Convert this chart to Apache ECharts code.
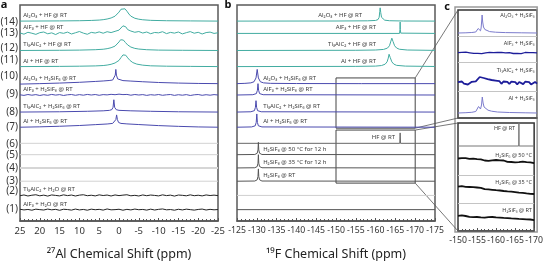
<!DOCTYPE html>
<html><head><meta charset="utf-8">
<script src="https://cdn.jsdelivr.net/npm/echarts/dist/echarts.min.js"></script>
<style>html,body{margin:0;padding:0;background:#fff}#chart{width:546px;height:266px}</style>
</head><body><div id="chart"></div>
<script>
// ---------------- DATA ----------------
const rowNumbers = ['(1)','(2)','(3)','(4)','(5)','(6)','(7)','(8)','(9)','(10)','(11)','(12)','(13)','(14)'];
const xRangeA = [-25, 25];
const xRangeB = [-175, -125];
const xRangeC = [-170, -150];
const tickStep = 5;

// panel a: 27Al spectra [ppm, intensity]
const aAl2O3_HF = [[25,0],[15,0.2],[10,0.4],[7,0.7],[5,1.1],[4,1.5],[3,2.2],[2,3.3],[1,5.2],[0.5,7],[0,9.5],[-0.5,12.5],[-1,14],[-1.5,13],[-2,10.5],[-2.5,7.5],[-3,5.2],[-4,3],[-5,2],[-6,1.4],[-8,0.8],[-12,0.4],[-18,0.2],[-25,0]];
const aAlF3_HF = [[25,0.5],[24.5,-0.4],[24,-0.8],[23.5,0.6],[23,1.2],[22.5,-0.3],[22,0.2],[21.5,1.0],[21,-1],[20.5,0.2],[20,0.8],[19.5,-0.2],[19,1.5],[18.5,0.5],[18,-0.4],[17.5,1.2],[17,0.6],[16.5,-0.2],[16,-1.2],[15.5,0.3],[15,0.9],[14.5,-0.5],[14,0.1],[13.5,0.8],[13,1.4],[12.5,0.2],[12,-0.6],[11.5,1.1],[11,0.7],[10.5,-0.2],[10,2.0],[9.5,0.9],[9,0.3],[8.5,1.2],[8,-0.9],[7.5,0.4],[7,1.1],[6.5,-0.3],[6,0.4],[5.5,1.3],[5,1.6],[4.5,0.3],[4,0.2],[3.5,1.4],[3,1.8],[2.5,0.6],[2,0.9],[1.5,2.0],[1,2.2],[0.5,2.6],[0,3.5],[-0.5,5],[-1,8],[-1.3,10],[-1.7,7],[-2.2,4],[-2.6,3.2],[-3,2.5],[-3.5,1.4],[-4,1.2],[-4.5,2.4],[-5,2.0],[-5.5,0.8],[-6,0.4],[-6.5,1.6],[-7,1.5],[-7.5,0.2],[-8,-0.3],[-8.5,0.9],[-9,1.0],[-9.5,-0.2],[-10,0.6],[-10.5,1.3],[-11,1.8],[-11.5,0.4],[-12,-0.2],[-12.5,0.7],[-13,1.1],[-13.5,-0.4],[-14,0.3],[-14.5,1.2],[-15,1.5],[-15.5,0.1],[-16,-0.5],[-16.5,0.6],[-17,0.8],[-17.5,1.6],[-18,1.9],[-18.5,0.5],[-19,0.2],[-19.5,1.4],[-20,1.2],[-20.5,0.0],[-21,-0.6],[-21.5,0.5],[-22,0.9],[-22.5,-0.2],[-23,1.4],[-23.5,0.6],[-24,0.0],[-24.5,1.1],[-25,0.7]];
const aTi3AlC2_HF = [[25,0],[15,0.2],[10,0.4],[6,0.8],[4,1.3],[3,1.9],[2,2.9],[1,4.6],[0.5,6.5],[0,9],[-0.4,11.3],[-0.7,12],[-1.1,11],[-1.6,8.5],[-2.2,5.8],[-3,3.6],[-4,2.2],[-5,1.5],[-7,0.8],[-10,0.4],[-16,0.2],[-25,0]];
const aAl_HF = [[25,0],[15,0.2],[10,0.4],[6,0.7],[4,1.1],[3,1.6],[2,2.4],[1,3.8],[0,6.5],[-0.5,9.5],[-1,12.3],[-1.3,13],[-1.7,12],[-2.2,9.2],[-2.8,6.4],[-3.5,4.2],[-4.5,2.6],[-6,1.5],[-8,0.8],[-12,0.4],[-18,0.2],[-25,0]];
const aAl2O3_H2SiF6 = [[25,-0.5],[20,0],[15,0.6],[10,1.4],[6,2.3],[4,2.8],[2.5,3.3],[1.6,3.8],[1.2,5],[0.95,9],[0.8,15],[0.65,9],[0.35,5],[0,3.8],[-1,3.2],[-3,2.7],[-6,2],[-10,1.2],[-15,0.6],[-20,0.2],[-25,0]];
const aAlF3_H2SiF6 = {x0:25, dx:-1, y:[0.2,-0.4,0.5,-0.2,0.4,-0.5,0.3,-0.3,0.6,-0.1,0.4,-0.5,0.2,0.5,-0.3,0.4,-0.2,0.6,0.0,0.5,-0.3,0.4,0.1,0.7,0.3,0.9,0.4,0.6,-0.2,0.5,0.0,0.4,-0.4,0.3,-0.1,0.5,-0.3,0.2,0.5,-0.4,0.3,-0.2,0.4,-0.5,0.2,0.5,-0.3,0.3,-0.2,0.4,0.0]};
const aTi3AlC2_H2SiF6 = [[25,0],[15,0.3],[8,0.8],[4,1.3],[2.4,1.8],[1.8,2.6],[1.5,5],[1.3,13],[1.1,5],[0.7,2.5],[0,1.8],[-3,1.3],[-8,0.8],[-15,0.3],[-25,0]];
const aAl_H2SiF6 = [[25,0],[20,0.4],[15,1.0],[10,1.8],[6,2.7],[3,3.4],[1.6,4],[1.1,5.2],[0.8,8],[0.6,13],[0.4,8],[0.1,5],[-0.5,4],[-2,3.5],[-5,2.8],[-10,1.7],[-15,0.9],[-20,0.3],[-25,0]];
const aBlank = [[25,0],[-25,0]];
const aTi3AlC2_H2O = {x0:25, dx:-1, y:[-0.3,0.5,-0.6,0.2,0.7,-0.4,0.3,-0.7,0.5,0.0,-0.5,0.6,-0.2,0.4,-0.6,0.3,0.7,-0.3,0.2,-0.5,0.6,-0.1,0.4,-0.6,0.5,-0.2,0.3,0.7,-0.4,0.1,-0.6,0.5,-0.3,0.4,0.0,-0.5,0.6,-0.2,0.3,-0.7,0.4,0.1,-0.4,0.6,-0.3,0.2,-0.5,0.5,-0.1,0.3,-0.2]};
const aAlF3_H2O = {x0:25, dx:-1, y:[0.4,-0.3,0.2,-0.6,0.5,0.0,-0.4,0.6,-0.2,0.3,-0.7,0.4,0.1,-0.5,0.6,-0.3,0.2,-0.6,0.5,-0.1,0.3,-0.5,0.7,-0.2,0.0,0.4,-0.6,0.3,-0.3,0.6,-0.1,0.2,-0.5,0.5,-0.4,0.3,0.7,-0.2,0.1,-0.6,0.4,-0.3,0.5,0.0,-0.5,0.2,0.6,-0.4,0.3,-0.2,0.1]};

// panel b: 19F spectra [ppm, intensity]
const bAl2O3_HF = [[-125,0],[-150,0.1],[-158,0.3],[-160,0.7],[-160.6,1.6],[-160.9,4],[-161.05,10],[-161.15,14],[-161.3,9],[-161.5,4],[-161.8,2],[-162.3,1],[-163.5,0.4],[-167,0.1],[-175,0]];
const bAlF3_HF = [[-125,0],[-166.05,0],[-166.15,4],[-166.2,12],[-166.25,4],[-166.35,0.3],[-175,0]];
const bTi3AlC2_HF = [[-125,0],[-155,0.2],[-160,0.5],[-162,1.1],[-163,2.5],[-163.5,5],[-163.8,9],[-164.1,13],[-164.4,9.5],[-164.8,5],[-165.3,2.6],[-166,1.3],[-168,0.5],[-175,0.1]];
const bAl_HF = [[-125,0],[-155,0.2],[-160,0.5],[-161.5,1.1],[-162.4,2.5],[-162.9,5],[-163.2,9],[-163.4,13],[-163.7,9.5],[-164.1,5],[-164.6,2.6],[-165.3,1.3],[-167.5,0.5],[-175,0.1]];
const bAl2O3_H2SiF6 = [[-125,0],[-127,0.3],[-128.5,0.8],[-129.3,2],[-129.8,6],[-130.1,15],[-130.4,6],[-130.9,2],[-131.7,0.8],[-133.5,0.3],[-140,0.1],[-155.8,0],[-156.1,0.8],[-156.4,0],[-175,0]];
const bAlF3_H2SiF6 = [[-125,0],[-129,0.3],[-129.9,1.5],[-130.15,5],[-130.3,12],[-130.45,5],[-130.7,1.5],[-131.6,0.3],[-175,0]];
const bTi3AlC2_H2SiF6 = [[-125,0],[-128.5,0.3],[-129.4,1.5],[-129.65,5],[-129.8,12],[-129.95,5],[-130.2,1.5],[-131.1,0.3],[-175,0]];
const bAl_H2SiF6 = [[-125,0],[-128.7,0.3],[-129.6,1.5],[-129.85,5],[-130.0,14],[-130.15,5],[-130.4,1.5],[-131.3,0.3],[-175,0]];
const bHF = [[-125,0],[-166.1,0],[-166.2,11],[-166.3,0],[-175,0]];
const bH2SiF6_50C = [[-125,0],[-129.5,0.2],[-130.1,1.5],[-130.3,5],[-130.4,13],[-130.5,5],[-130.7,1.5],[-131.3,0.2],[-175,0]];
const bH2SiF6_35C = [[-125,0],[-129.5,0.2],[-130.1,1.5],[-130.3,5],[-130.4,14],[-130.5,5],[-130.7,1.5],[-131.3,0.2],[-175,0]];
const bH2SiF6_RT = [[-125,0],[-129.5,0.2],[-130.1,1.5],[-130.3,5],[-130.4,13],[-130.5,5],[-130.7,1.5],[-131.3,0.2],[-175,0]];
const bBlank = [[-125,0],[-175,0]];

// panel c: 19F zoom (-150 to -170 ppm)
const cAl2O3_H2SiF6 = [[-150,0],[-152,0.2],[-153.5,0.5],[-154.5,1],[-154.9,2.5],[-155.1,4.5],[-155.3,6.5],[-155.5,4],[-155.7,2.2],[-155.85,5],[-156.0,12],[-156.1,18],[-156.25,11],[-156.45,6],[-156.8,3.5],[-157.3,2.2],[-158,1.4],[-159.5,0.8],[-162,0.4],[-166,0.2],[-170,0]];
const cAlF3_H2SiF6 = {x0:-150, dx:-0.5, y:[0.3,-0.5,0.6,-0.2,0.8,-0.6,0.2,0.5,-0.4,0.7,-0.3,0.4,-0.7,0.5,0.1,-0.5,0.6,-0.2,0.3,-0.6,0.5,-0.1,0.7,-0.4,0.2,-0.6,0.4,0.0,-0.5,0.6,-0.3,0.3,-0.7,0.2,0.5,-0.4,0.3,-0.6,0.4,-0.2,0.1]};
const cTi3AlC2_H2SiF6 = {x0:-150, dx:-0.5, y:[0.8,-1.2,1.5,-0.6,1.0,-1.5,0.4,1.2,-0.8,1.6,3.5,6.0,4.2,5.0,3.0,3.8,2.0,3.0,1.2,2.4,0.6,1.8,-0.8,1.5,0.2,1.2,-1.0,1.4,-0.4,0.9,-1.3,1.0,0.2,-1.1,1.3,-0.6,0.8,-1.4,0.5,1.1,-0.7]};
const cAl_H2SiF6 = [[-150,0],[-152,0.3],[-153.5,0.7],[-154.5,1.5],[-154.9,3.5],[-155.2,6.5],[-155.45,5],[-155.7,4],[-155.95,8],[-156.15,16],[-156.35,10],[-156.6,6],[-157,4],[-157.6,2.8],[-158.5,1.8],[-160,1],[-163,0.5],[-167,0.2],[-170,0]];
const cHF = [[-150,0],[-165.95,0],[-166,30],[-166.05,0],[-170,0]];
const cH2SiF6_50C = {x0:-150, dx:-0.5, y:[4.5,3.2,4.8,3.6,4.9,3.0,4.2,3.8,4.4,2.9,3.9,2.6,3.7,3.1,2.5,3.6,2.2,3.3,2.7,1.9,3.0,2.1,2.6,1.4,2.5,1.7,1.1,2.3,1.0,1.9,0.6,1.5,0.9,0.3,1.4,0.2,0.8,-0.3,0.7,0.1,-0.2]};
const cH2SiF6_35C = {x0:-150, dx:-0.5, y:[7.4,6.3,7.8,6.5,7.2,5.9,7.0,6.1,6.8,5.6,6.5,5.2,6.2,5.5,4.8,5.9,4.6,5.3,4.2,5.0,3.8,4.6,3.5,4.2,3.0,3.9,2.6,3.4,2.3,3.0,1.9,2.7,1.4,2.2,1.1,1.8,0.6,1.3,0.2,0.9,0.0]};
const cH2SiF6_RT = {x0:-150, dx:-0.5, y:[4.2,3.4,4.6,3.3,4.0,3.6,3.1,4.1,2.9,3.7,3.0,3.5,2.6,3.3,2.4,3.0,2.8,2.2,3.0,2.0,2.6,1.7,2.4,1.5,2.1,1.2,1.9,1.0,1.6,0.8,1.4,0.6,1.1,0.3,0.9,0.2,0.7,-0.2,0.5,0.1,-0.1]};

// ---------------- LAYOUT / STYLE ----------------
const TEAL = '#42aca1', BLUE = '#4a4aae', LBLUE = '#7b7bcc', DBLUE = '#1d1d9a';
const FONT = 'Noto Sans';
// vertical offset (axis units) of each stacked row, index = row number
const rowBase = [0, 12, 27, 42, 56, 70, 82, 99, 115, 133, 145, 163, 180, 198, 211];
const rowNumDy = [0, 1, 5, 0, 0, 0, -1, 0, 0, 1, 8, 7, 2, 0, -1];

function toPairs(d) { return Array.isArray(d) ? d : d.y.map((v, i) => [d.x0 + i * d.dx, v]); }

const aSpec = [
  {row:14, d:aAl2O3_HF, c:TEAL, t:'Al₂O₃ + HF @ RT'},
  {row:13, d:aAlF3_HF, c:TEAL, t:'AlF₃ + HF @ RT'},
  {row:12, d:aTi3AlC2_HF, c:TEAL, t:'Ti₃AlC₂ + HF @ RT'},
  {row:11, d:aAl_HF, c:TEAL, t:'Al + HF @ RT'},
  {row:10, d:aAl2O3_H2SiF6, c:BLUE, t:'Al₂O₃ + H₂SiF₆ @ RT'},
  {row:9, d:aAlF3_H2SiF6, c:BLUE, t:'AlF₃ + H₂SiF₆ @ RT'},
  {row:8, d:aTi3AlC2_H2SiF6, c:BLUE, t:'Ti₃AlC₂ + H₂SiF₆ @ RT'},
  {row:7, d:aAl_H2SiF6, c:BLUE, t:'Al + H₂SiF₆ @ RT'},
  {row:6, d:aBlank, c:'#d2d2d2'},
  {row:5, d:aBlank, c:'#d2d2d2'},
  {row:4, d:aBlank, c:'#d6d6d6', w:2},
  {row:3, d:aBlank, c:'#d2d2d2'},
  {row:2, d:aTi3AlC2_H2O, c:'#222', t:'Ti₃AlC₂ + H₂O @ RT'},
  {row:1, d:aAlF3_H2O, c:'#222', t:'AlF₃ + H₂O @ RT'}
];
const bSpec = [
  {row:14, d:bAl2O3_HF, c:TEAL, t:'Al₂O₃ + HF @ RT', lx:-156.6, al:'right'},
  {row:13, d:bAlF3_HF, c:TEAL, t:'AlF₃ + HF @ RT', lx:-160.1, al:'right'},
  {row:12, d:bTi3AlC2_HF, c:TEAL, t:'Ti₃AlC₂ + HF @ RT', lx:-160.1, al:'right'},
  {row:11, d:bAl_HF, c:TEAL, t:'Al + HF @ RT', lx:-160.1, al:'right'},
  {row:10, d:bAl2O3_H2SiF6, c:BLUE, t:'Al₂O₃ + H₂SiF₆ @ RT', lx:-131.6, al:'left'},
  {row:9, d:bAlF3_H2SiF6, c:BLUE, t:'AlF₃ + H₂SiF₆ @ RT', lx:-131.6, al:'left'},
  {row:8, d:bTi3AlC2_H2SiF6, c:BLUE, t:'Ti₃AlC₂ + H₂SiF₆ @ RT', lx:-131.6, al:'left'},
  {row:7, d:bAl_H2SiF6, c:BLUE, t:'Al + H₂SiF₆ @ RT', lx:-131.6, al:'left'},
  {row:6, d:bHF, c:'#666', t:'HF @ RT', lx:-164.9, al:'right'},
  {row:5, d:bH2SiF6_50C, c:'#555', t:'H₂SiF₆ @ 50 °C for 12 h', lx:-131.6, al:'left'},
  {row:4, d:bH2SiF6_35C, c:'#555', t:'H₂SiF₆ @ 35 °C for 12 h', lx:-131.6, al:'left'},
  {row:3, d:bH2SiF6_RT, c:'#555', t:'H₂SiF₆ @ RT', lx:-131.6, al:'left'},
  {row:2, d:bBlank, c:'#cfcfcf'},
  {row:1, d:bBlank, c:'#555'}
];
// panel c (two boxes): base and label height in box units
const cSpec = [
  {g:2, base:85, ly:103, d:cAl2O3_H2SiF6, c:LBLUE, w:1, t:'Al₂O₃ + H₂SiF₆'},
  {g:2, base:65, ly:75, d:cAlF3_H2SiF6, c:DBLUE, w:1.3, t:'AlF₃ + H₂SiF₆'},
  {g:2, base:35, ly:48, d:cTi3AlC2_H2SiF6, c:DBLUE, w:1.8, t:'Ti₃AlC₂ + H₂SiF₆'},
  {g:2, base:5, ly:20, d:cAl_H2SiF6, c:LBLUE, w:1, t:'Al + H₂SiF₆'},
  {g:3, base:85, ly:103, d:cHF, c:'#777', w:1, t:'HF @ RT', lx:-165.0},
  {g:3, base:68, ly:76, d:cH2SiF6_50C, c:'#111', w:1.8, t:'H₂SiF₆ @ 50 °C'},
  {g:3, base:37, ly:49, d:cH2SiF6_35C, c:'#111', w:1.8, t:'H₂SiF₆ @ 35 °C'},
  {g:3, base:11, ly:21, d:cH2SiF6_RT, c:'#111', w:1.8, t:'H₂SiF₆ @ RT'}
];
const cSep = {2:[82,56,27], 3:[56,28]};

// ---------------- CHART ----------------
const chart = echarts.init(document.getElementById('chart'), null, {renderer:'canvas'});
const AX = '#555';
function gridOf(left, top, width, height, col) {
  return {left, top, width, height, show:true, borderColor:col, borderWidth:1.5, backgroundColor:'rgba(0,0,0,0)'};
}
function xAxisOf(gi, range, show, name, fs) {
  return {gridIndex:gi, type:'value', min:range[0], max:range[1], inverse:true, interval:tickStep,
    axisLine:{show:true, onZero:false, lineStyle:{color:AX, width:1.5}},
    axisTick:{show:show, inside:true, length:3, lineStyle:{color:AX}},
    minorTick:{show:show, splitNumber:5, length:2, lineStyle:{color:AX}},
    axisLabel:{show:show, interval:0, color:'#333', fontSize:fs || 8.7, margin:5, fontFamily:FONT, hideOverlap:false, showMinLabel:true, showMaxLabel:true},
    splitLine:{show:false},
    name: name || '', nameLocation:'middle', nameGap:27,
    nameTextStyle:{color:'#222', fontSize:12.5, fontFamily:FONT}};
}
function yAxisOf(gi, max) { return {gridIndex:gi, type:'value', min:0, max:max, show:false}; }

const series = [];
function addLine(gi, pairs, base, color, width) {
  series.push({type:'line', xAxisIndex:gi, yAxisIndex:gi, symbol:'none', silent:true, animation:false,
    lineStyle:{color:color, width:width || 1}, data: pairs.map(p => [p[0], p[1] + base])});
  return series[series.length - 1];
}
aSpec.forEach(s => addLine(0, toPairs(s.d), rowBase[s.row], s.c, s.w));
bSpec.forEach(s => addLine(1, toPairs(s.d), rowBase[s.row], s.c, s.w));
cSpec.forEach(s => addLine(s.g, toPairs(s.d), s.base, s.c, s.w));
// separators in panel c
[2,3].forEach(g => {
  series.push({type:'line', xAxisIndex:g, yAxisIndex:g, data:[], silent:true, animation:false,
    markLine:{silent:true, symbol:'none', label:{show:false}, animation:false,
      lineStyle:{color:'#c4c4c4', width:1, type:'solid'}, data: cSep[g].map(v => ({yAxis:v}))}});
});
// zoom rectangles in panel b
series.push({type:'line', xAxisIndex:1, yAxisIndex:1, data:[], silent:true, animation:false,
  markArea:{silent:true, animation:false, itemStyle:{color:'rgba(0,0,0,0)', borderColor:'#444', borderWidth:1},
    data:[[{coord:[-150,151]},{coord:[-170,98]}],[{coord:[-150,96]},{coord:[-170,40]}]]}});

chart.setOption({
  animation:false,
  textStyle:{fontFamily:FONT},
  grid:[gridOf(20,5,198,228,'#5a5a5a'), gridOf(237,5,198,228,'#5a5a5a'), gridOf(458,10,79,108,'#333'), gridOf(458,123,79,108,'#333')],
  xAxis:[xAxisOf(0,xRangeA,true,'²⁷Al Chemical Shift (ppm)',9.5), xAxisOf(1,xRangeB,true,'¹⁹F Chemical Shift (ppm)'), xAxisOf(2,xRangeC,false), xAxisOf(3,xRangeC,true)],
  yAxis:[yAxisOf(0,228), yAxisOf(1,228), yAxisOf(2,108), yAxisOf(3,108)],
  series:series
});

// ---------------- ANNOTATIONS ----------------
function P(gi, x, y) { return chart.convertToPixel({gridIndex:gi}, [x, y]); }
const g = [];
function text(p, t, align, size) {
  g.push({type:'text', x:p[0], y:p[1], silent:true,
    style:{text:t, fill:'#3a3a3a', font:(size||6)+'px "'+FONT+'"', align:align||'left', verticalAlign:'middle'}});
}
aSpec.forEach(s => { if (s.t) text(P(0, 24.2, rowBase[s.row] + 6), s.t, 'left', 6); });
bSpec.forEach(s => { if (s.t) text(P(1, s.lx, rowBase[s.row] + 6), s.t, s.al, 6); });
cSpec.forEach(s => { text(P(s.g, s.lx || -169.4, s.ly), s.t, 'right', 5.5); });
rowNumbers.forEach((r, i) => {
  const row = i + 1, p = P(0, 25, rowBase[row] + rowNumDy[row]);
  g.push({type:'text', x:18, y:p[1], silent:true, style:{text:r, fill:'#333', font:'10px "'+FONT+'"', align:'right', verticalAlign:'middle'}});
});
// panel letters
const pa = P(0, 25, 228), pb = P(1, -125, 228), pc = P(2, -150, 108);
[['a', pa[0]-16], ['b', pb[0]-9], ['c', pc[0]-11]].forEach((l, i) => {
  g.push({type:'text', x:l[1], y:i===2 ? pc[1]-3 : pa[1], silent:true,
    style:{text:l[0], fill:'#111', font:'bold 11px "'+FONT+'"', align:'center', verticalAlign:'middle'}});
});
// outer frame of panel c
const cTL = P(2, -150, 108), cBR = P(3, -170, 0);
g.push({type:'rect', silent:true, shape:{x:cTL[0]-3, y:cTL[1]-3, width:cBR[0]-cTL[0]+6, height:cBR[1]-cTL[1]+4},
  style:{fill:'none', stroke:'#9a9a9a', lineWidth:1.5}});
// connectors from zoom boxes to panel c
[[P(1,-170,151), P(2,-150,108)], [P(1,-170,98), P(2,-150,0)], [P(1,-170,96), P(3,-150,108)], [P(1,-170,40), P(3,-150,0)]]
  .forEach(pp => g.push({type:'line', silent:true, shape:{x1:pp[0][0], y1:pp[0][1], x2:pp[1][0], y2:pp[1][1]}, style:{stroke:'#555', lineWidth:0.8}}));
chart.setOption({graphic:g});
</script></body></html>
